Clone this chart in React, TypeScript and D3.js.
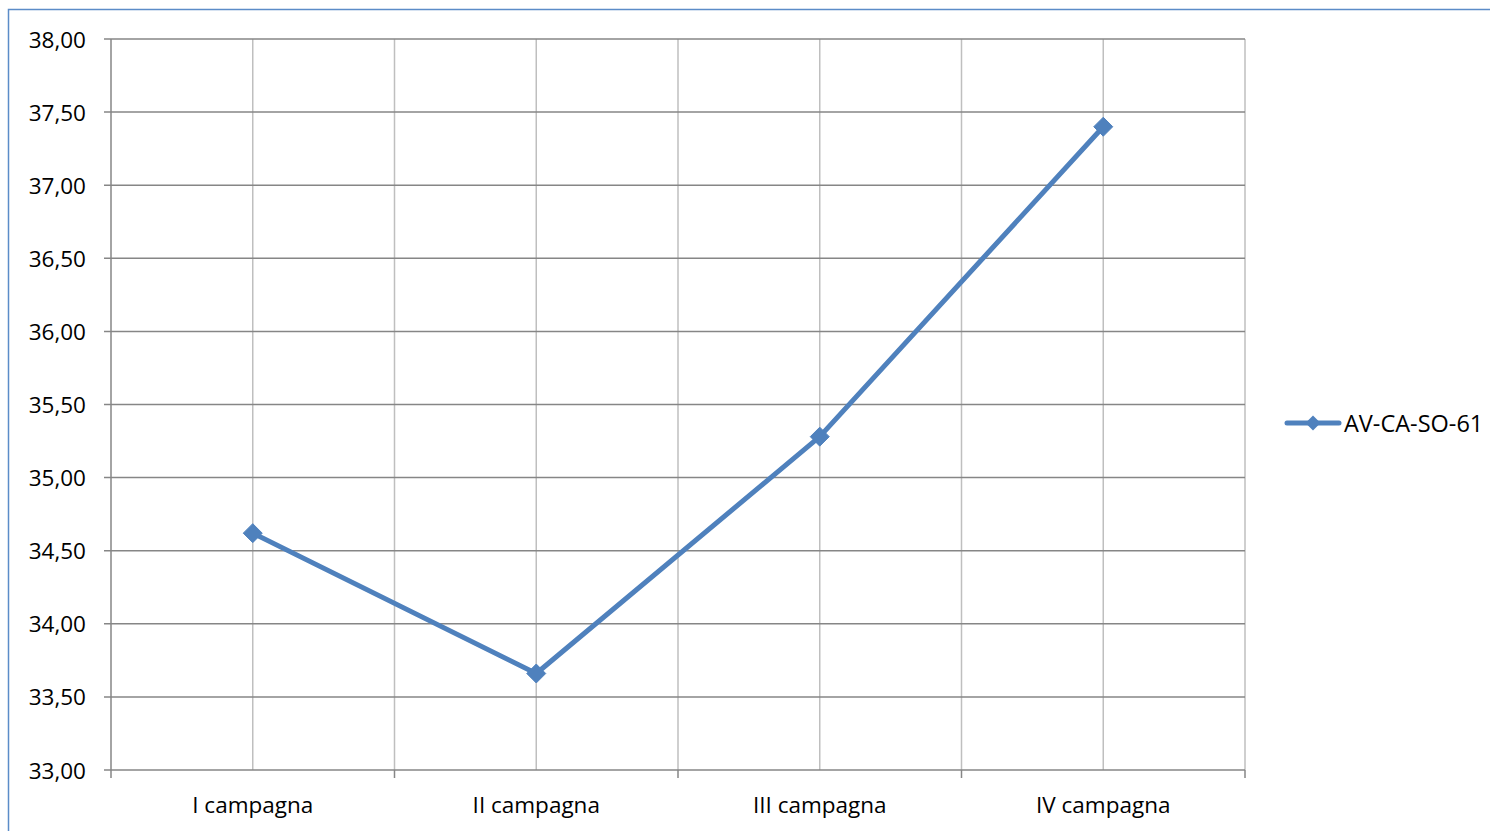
import React from "react";
import * as d3 from "d3";

const categories = ["I campagna", "II campagna", "III campagna", "IV campagna"];
const values = [34.62, 33.66, 35.28, 37.4];
const seriesName = "AV-CA-SO-61";
const yTicks = [33, 33.5, 34, 34.5, 35, 35.5, 36, 36.5, 37, 37.5, 38];

const W = 1490;
const H = 831;
const plot = { left: 111, right: 1245, top: 39, bottom: 770 };
const blue = "#4f81bd";
const font = "'Open Sans', sans-serif";

const itLocale = d3.formatLocale({ decimal: ",", thousands: ".", grouping: [3], currency: ["€", ""] });
const fmt = itLocale.format(".2f");

const diamond = (cx: number, cy: number, r: number) =>
  `M${cx},${cy - r}L${cx + r},${cy}L${cx},${cy + r}L${cx - r},${cy}Z`;

export default function App() {
  const x = d3.scaleBand<string>().domain(categories).range([plot.left, plot.right]).padding(0);
  const y = d3.scaleLinear().domain([33, 38]).range([plot.bottom, plot.top]);
  const bw = x.bandwidth();
  const cx = (c: string) => (x(c) ?? 0) + bw / 2;

  const boundaries = [...categories.map((c) => x(c) ?? 0), plot.right];
  const centers = categories.map(cx);

  const line = d3
    .line<number>()
    .x((_, i) => cx(categories[i]))
    .y((d) => y(d));

  return (
    <div style={{ position: "absolute", left: 0, top: 0 }}>
      <svg width={W} height={H} style={{ display: "block", background: "#fff" }}>
        {/* chart border */}
        <rect x={8.5} y={9.5} width={W + 20} height={H + 20} fill="none" stroke="#5b8cc8" strokeWidth={1.5} />

        {/* vertical gridlines */}
        {[...boundaries.slice(1), ...centers].map((gx, i) => (
          <line key={"v" + i} x1={gx} x2={gx} y1={plot.top} y2={plot.bottom} stroke="#bfbfbf" strokeWidth={1.5} />
        ))}

        {/* horizontal gridlines + y ticks */}
        {yTicks.map((t) => (
          <g key={"h" + t}>
            <line x1={plot.left - 7} x2={plot.right} y1={y(t)} y2={y(t)} stroke="#868686" strokeWidth={1.5} />
            <text
              x={86}
              y={y(t)}
              textAnchor="end"
              dominantBaseline="central"
              fontFamily={font}
              fontSize={22.5}
              fill="#000"
            >
              {fmt(t)}
            </text>
          </g>
        ))}

        {/* left axis line */}
        <line x1={plot.left} x2={plot.left} y1={plot.top} y2={plot.bottom} stroke="#868686" strokeWidth={1.5} />

        {/* bottom ticks */}
        {boundaries.map((bx, i) => (
          <line key={"bt" + i} x1={bx} x2={bx} y1={plot.bottom} y2={plot.bottom + 8} stroke="#868686" strokeWidth={1.5} />
        ))}

        {/* category labels */}
        {categories.map((c) => (
          <text key={c} x={cx(c)} y={813} textAnchor="middle" fontFamily={font} fontSize={22.5} fill="#000">
            {c}
          </text>
        ))}

        {/* series */}
        <path d={line(values) ?? ""} fill="none" stroke={blue} strokeWidth={5} strokeLinejoin="round" />
        {values.map((v, i) => (
          <path key={"m" + i} d={diamond(cx(categories[i]), y(v), 9.5)} fill={blue} stroke={blue} strokeWidth={1} />
        ))}

        {/* legend */}
        <line x1={1287} x2={1339} y1={423} y2={423} stroke={blue} strokeWidth={5} strokeLinecap="round" />
        <path d={diamond(1313, 423, 7.5)} fill={blue} />
        <text x={1344} y={423} dominantBaseline="central" fontFamily={font} fontSize={23.5} fill="#000">
          {seriesName}
        </text>
      </svg>
    </div>
  );
}
